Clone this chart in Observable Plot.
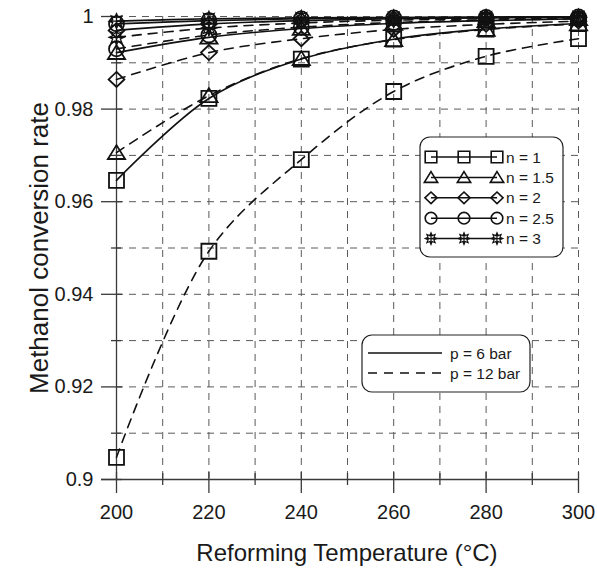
<!DOCTYPE html>
<html><head><meta charset="utf-8">
<script src="https://cdn.jsdelivr.net/npm/d3@7"></script>
<script src="https://cdn.jsdelivr.net/npm/@observablehq/plot@0.6"></script>
<style>body{margin:0;background:#fff}</style>
</head><body><div id="chart"></div>
<script>
// ---- data ----
const temperatures = [200, 220, 240, 260, 280, 300];
const nValues = ["1", "1.5", "2", "2.5", "3"];
const pressureLabels = ["p = 6 bar", "p = 12 bar"];

// p = 6 bar (solid)
const p6_n1  = [0.9646, 0.9823, 0.9908, 0.9951, 0.9973, 0.9985];
const p6_n15 = [0.9922, 0.9955, 0.9974, 0.9985, 0.9991, 0.9995];
const p6_n2  = [0.9970, 0.9984, 0.9991, 0.9995, 0.9997, 0.9998];
const p6_n25 = [0.9984, 0.9991, 0.9995, 0.9997, 0.9998, 0.9999];
const p6_n3  = [0.9990, 0.9995, 0.9997, 0.9998, 0.9999, 0.99995];
// p = 12 bar (dashed)
const p12_n1  = [0.9048, 0.9493, 0.9691, 0.9838, 0.9914, 0.9952];
const p12_n15 = [0.9706, 0.9829, 0.9909, 0.9950, 0.9972, 0.9984];
const p12_n2  = [0.9864, 0.9922, 0.9952, 0.9972, 0.9983, 0.9990];
const p12_n25 = [0.9930, 0.9960, 0.9977, 0.9987, 0.9992, 0.9995];
const p12_n3  = [0.9955, 0.9975, 0.9986, 0.9992, 0.9995, 0.9997];

const xTicks = [200, 220, 240, 260, 280, 300];
const xMinorTicks = [210, 230, 250, 270, 290];
const xGrid = [210, 220, 230, 240, 250, 260, 270, 280, 290, 300];
const yTicks = [0.9, 0.92, 0.94, 0.96, 0.98, 1];
const yMinorTicks = [0.91, 0.93, 0.95, 0.97, 0.99];
const yGrid = [0.91, 0.92, 0.93, 0.94, 0.95, 0.96, 0.97, 0.98, 0.99, 1];

const xTitle = "Reforming Temperature (°C)";
const yTitle = "Methanol conversion rate";

// ---- build table ----
const seriesByPressure = [
  [p6_n1, p6_n15, p6_n2, p6_n25, p6_n3],
  [p12_n1, p12_n15, p12_n2, p12_n25, p12_n3]
];
const rows = [];
seriesByPressure.forEach((series, pi) => series.forEach((vals, ni) => vals.forEach((v, ti) =>
  rows.push({T: temperatures[ti], rate: v, n: nValues[ni], p: pressureLabels[pi], key: pressureLabels[pi] + nValues[ni]}))));

// ---- symbols ----
const rOf = s => Math.sqrt(s / Math.PI);
const symSquare = {draw(c, s) {const h = rOf(s); c.moveTo(-h, -h); c.lineTo(h, -h); c.lineTo(h, h); c.lineTo(-h, h); c.closePath();}};
const symTriangle = {draw(c, s) {const h = rOf(s); c.moveTo(0, -h * 1.0); c.lineTo(h * 1.15, h * 0.85); c.lineTo(-h * 1.15, h * 0.85); c.closePath();}};
const symDiamond = {draw(c, s) {const h = rOf(s); c.moveTo(0, -h); c.lineTo(h * 1.05, 0); c.lineTo(0, h); c.lineTo(-h * 1.05, 0); c.closePath();}};
const symCircle = {draw(c, s) {const h = rOf(s); c.moveTo(h, 0); c.arc(0, 0, h, 0, 2 * Math.PI);}};
const symStar = {draw(c, s) {
  const h = rOf(s), k = 8;
  for (let i = 0; i < 2 * k; i++) {
    const a = i * Math.PI / k - Math.PI / 2, rr = i % 2 ? h * 0.55 : h;
    const x = rr * Math.cos(a), y = rr * Math.sin(a);
    if (i) c.lineTo(x, y); else c.moveTo(x, y);
  }
  c.closePath();
  for (let i = 0; i < 2; i++) {
    const a = i * Math.PI / 2;
    c.moveTo(h * Math.cos(a), h * Math.sin(a)); c.lineTo(-h * Math.cos(a), -h * Math.sin(a));
  }
}};
const symbols = [symSquare, symTriangle, symDiamond, symCircle, symStar];

const FONT = "'Liberation Sans', Arial, Helvetica, sans-serif";
const axisColor = "#3a3a3a";
const gridStyle = {stroke: "#5a5a5a", strokeWidth: 1, strokeDasharray: "7,6"};
const dashLine = "9,7";

const dotMarks = nValues.map((n, i) => Plot.dot(rows.filter(d => d.n === n), {
  x: "T", y: "rate", symbol: symbols[i], r: 7.5, fill: "none", stroke: "#111", strokeWidth: i === 4 ? 1.3 : 1.8
}));

const chart = Plot.plot({
  width: 597, height: 570,
  marginLeft: 116, marginRight: 19, marginTop: 16, marginBottom: 91,
  style: {fontFamily: FONT, background: "#fff", color: "#1a1a1a"},
  x: {domain: [200, 300]},
  y: {domain: [0.9, 1]},
  marks: [
    Plot.ruleX(xGrid, {...gridStyle}),
    Plot.ruleY(yGrid, {...gridStyle}),
    // axis lines
    Plot.ruleX([200], {y1: 0.9, y2: 1, insetBottom: -14, stroke: axisColor, strokeWidth: 1.3}),
    Plot.ruleY([0.9], {x1: 200, x2: 300, insetLeft: -15, stroke: axisColor, strokeWidth: 1.3}),
    // ticks
    Plot.ruleX(xTicks, {y1: 0.9, y2: 0.9, insetTop: -7, insetBottom: -14, stroke: axisColor, strokeWidth: 1.3}),
    Plot.ruleX(xMinorTicks, {y1: 0.9, y2: 0.9, insetTop: -6, insetBottom: -6, stroke: axisColor, strokeWidth: 1.3}),
    Plot.ruleY(yTicks, {x1: 200, x2: 200, insetLeft: -15, insetRight: -6, stroke: axisColor, strokeWidth: 1.3}),
    Plot.ruleY(yMinorTicks, {x1: 200, x2: 200, insetLeft: -5, insetRight: -5, stroke: axisColor, strokeWidth: 1.3}),
    Plot.axisX(xTicks, {tickSize: 0, tickPadding: 25, fontSize: 20, label: null, tickFormat: d => String(d)}),
    Plot.axisY(yTicks, {tickSize: 0, tickPadding: 23, fontSize: 20, label: null, tickFormat: d => String(d)}),
    // data lines
    Plot.line(rows.filter(d => d.p === pressureLabels[0]), {x: "T", y: "rate", z: "key", curve: "catmull-rom", stroke: "#111", strokeWidth: 1.6}),
    Plot.line(rows.filter(d => d.p === pressureLabels[1]), {x: "T", y: "rate", z: "key", curve: "catmull-rom", stroke: "#111", strokeWidth: 1.6, strokeDasharray: dashLine}),
    ...dotMarks
  ]
});
document.getElementById("chart").appendChild(chart);

// ---- titles and in-plot legends ----
const svg = d3.select(chart);
const g = svg.append("g").attr("font-family", FONT).attr("fill", "#1a1a1a").attr("text-anchor", "start");
g.append("text").attr("x", 347).attr("y", 561).attr("text-anchor", "middle").attr("font-size", 24).text(xTitle);
g.append("text").attr("transform", "translate(48,248) rotate(-90)").attr("text-anchor", "middle").attr("font-size", 26).text(yTitle);

// legend 1: n
g.append("rect").attr("x", 420).attr("y", 137).attr("width", 143).attr("height", 120).attr("rx", 10)
  .attr("fill", "#fff").attr("stroke", "#222").attr("stroke-width", 1.2);
nValues.forEach((n, i) => {
  const y = 157 + i * 20.4;
  g.append("line").attr("x1", 431).attr("x2", 497).attr("y1", y).attr("y2", y).attr("stroke", "#111").attr("stroke-width", 1.5);
  [431, 464, 497].forEach(x => {
    const p = d3.path(); symbols[i].draw(p, 5.8 * 5.8 * Math.PI);
    g.append("path").attr("d", p.toString()).attr("transform", `translate(${x},${y})`)
      .attr("fill", "none").attr("stroke", "#111").attr("stroke-width", i === 4 ? 1.2 : 1.6);
  });
  g.append("text").attr("x", 506).attr("y", y + 5.5).attr("text-anchor", "start").attr("font-size", 15.5).text("n = " + n);
});

// legend 2: pressure
g.append("rect").attr("x", 362).attr("y", 335).attr("width", 168).attr("height", 57).attr("rx", 10)
  .attr("fill", "#fff").attr("stroke", "#222").attr("stroke-width", 1.2);
pressureLabels.forEach((lab, i) => {
  const y = 353 + i * 20;
  g.append("line").attr("x1", 368).attr("x2", 442).attr("y1", y).attr("y2", y).attr("stroke", "#111")
    .attr("stroke-width", 1.6).attr("stroke-dasharray", i ? dashLine : null);
  g.append("text").attr("x", 450).attr("y", y + 5.5).attr("text-anchor", "start").attr("font-size", 15.5).text(lab);
});
</script>
</body></html>
